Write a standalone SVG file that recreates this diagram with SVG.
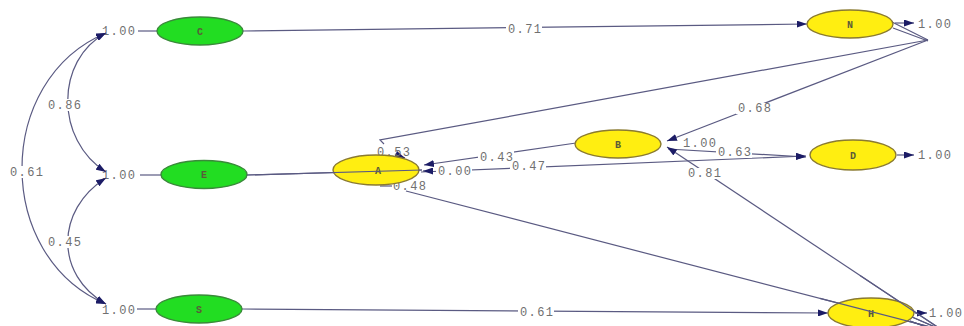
<svg xmlns="http://www.w3.org/2000/svg" width="964" height="326" viewBox="0 0 964 326">
<style>
.g{fill:#22dd22;stroke:#3a8a3a;stroke-width:1.4}
.y{fill:#ffee11;stroke:#8a7a30;stroke-width:1.4}
.nl{font-family:"Liberation Mono",monospace;font-size:10px;font-weight:bold;fill:#5a5a3a;text-anchor:middle}
.c{fill:none;stroke:#5a5a82;stroke-width:1.2}
.a{marker-end:url(#ah)}
.b{marker-start:url(#ah);marker-end:url(#ah)}
.t{font-family:"Liberation Mono",monospace;font-size:12px;letter-spacing:1.4px;fill:#707070}
.bg{fill:#fff}
</style>
<defs>
<marker id="ah" viewBox="0 0 10 8" refX="10" refY="4" markerWidth="10" markerHeight="7" markerUnits="userSpaceOnUse" orient="auto-start-reverse" preserveAspectRatio="none">
<path d="M0,0 L10,4 L0,8 z" fill="#1c1c66"/>
</marker>
</defs>
<rect width="964" height="326" fill="#fff"/>
<g id="variances">
<text class="t" x="102" y="35">1.00</text>
<text class="t" x="102" y="178.5">1.00</text>
<text class="t" x="102" y="314">1.00</text>
</g>
<g id="connectors">
<path class="c a" d="M243,31 L807,24"/>
<path class="c" d="M247,175 L422,170"/>
<path class="c a" d="M242,309 L828,313"/>
<path class="c b" d="M106,33 C55,60 55,140 106,172"/>
<path class="c b" d="M106,178 C55,210 55,275 106,304"/>
<path class="c b" d="M106,33 C-6,80 -6,257 106,304"/>
<path class="c" d="M138,31 L157,31"/>
<path class="c" d="M140,175 L162,175"/>
<path class="c" d="M137,309 L156,309"/>
<path class="c" d="M892,22 L928,40 M893,28 L928,41"/>
<path class="c" d="M928,40 L380,140 L384,144"/>
<path class="c a" d="M928,40 L667,141"/>
<path class="c a" d="M576,143 L424,165"/>
<path class="c a" d="M421,172 L806,156"/>
<path class="c a" d="M668,149 L806,157"/>
<path class="c a" d="M433,171 L423,171"/>
<path class="c a" d="M395,154 L405,158"/>
<path class="c" d="M912,317 L942,330 M910,321 L940,332"/>
<path class="c" d="M942,330 L406,191"/>
<path class="c" d="M380,186 L392,186"/>
<path class="c a" d="M942,330 L667,147"/>
<path class="c a" d="M895,23 L914,23"/>
<path class="c a" d="M897,155 L914,155"/>
<path class="c a" d="M915,313 L927,313"/>
</g>
<g id="labels">
<rect class="bg" x="46" y="99" width="36" height="12"/><text class="t" x="48" y="108.5">0.86</text>
<rect class="bg" x="46" y="236" width="36" height="12"/><text class="t" x="48" y="245.5">0.45</text>
<rect class="bg" x="8" y="166" width="36" height="12"/><text class="t" x="10" y="175.5">0.61</text>
<rect class="bg" x="506" y="24" width="36" height="11"/><text class="t" x="508" y="33">0.71</text>
<rect class="bg" x="518" y="307" width="36" height="11"/><text class="t" x="520" y="316">0.61</text>
<text class="t" x="377" y="155.5">0.53</text>
<rect class="bg" x="478" y="151" width="36" height="11"/><text class="t" x="480" y="160.5">0.43</text>
<rect class="bg" x="436" y="166" width="36" height="11"/><text class="t" x="438" y="175">0.00</text>
<rect class="bg" x="510" y="161" width="36" height="11"/><text class="t" x="512" y="170">0.47</text>
<text class="t" x="393" y="190">0.48</text>
<rect class="bg" x="736" y="103" width="36" height="11"/><text class="t" x="738" y="112">0.68</text>
<text class="t" x="683" y="147">1.00</text>
<rect class="bg" x="716" y="147" width="36" height="11"/><text class="t" x="718" y="156">0.63</text>
<rect class="bg" x="686" y="168" width="36" height="11"/><text class="t" x="688" y="177">0.81</text>
<text class="t" x="918" y="28">1.00</text>
<text class="t" x="918" y="159">1.00</text>
<text class="t" x="929" y="317">1.00</text>
</g>
<g id="node-C"><ellipse class="g" cx="200" cy="31" rx="43" ry="14"/><text class="nl" x="200" y="34.5">C</text></g>
<g id="node-E"><ellipse class="g" cx="204" cy="174.5" rx="43" ry="14"/><text class="nl" x="204" y="178">E</text></g>
<g id="node-S"><ellipse class="g" cx="199" cy="309" rx="43" ry="14"/><text class="nl" x="199" y="312.5">S</text></g>
<g id="node-A"><ellipse class="y" cx="376" cy="170" rx="43" ry="15"/><text class="nl" x="378" y="173.5">A</text></g>
<g id="node-B"><ellipse class="y" cx="618" cy="144" rx="43" ry="14"/><text class="nl" x="618" y="147.5">B</text></g>
<g id="node-N"><ellipse class="y" cx="850" cy="24" rx="43" ry="14"/><text class="nl" x="850" y="27.5">N</text></g>
<g id="node-D"><ellipse class="y" cx="853" cy="155" rx="43" ry="15"/><text class="nl" x="853" y="158.5">D</text></g>
<g id="node-H"><ellipse class="y" cx="871" cy="313" rx="43" ry="15"/><text class="nl" x="871" y="316.5">H</text></g>
<g id="overlay">
<path class="c" d="M247,175 L422,170"/>
<path class="c" d="M942,330 L820,298.3"/>
<path class="c" d="M942,330 L860,275.5"/>
<path class="c" d="M912,317 L942,330 M910,321 L940,332"/>
</g>
</svg>
